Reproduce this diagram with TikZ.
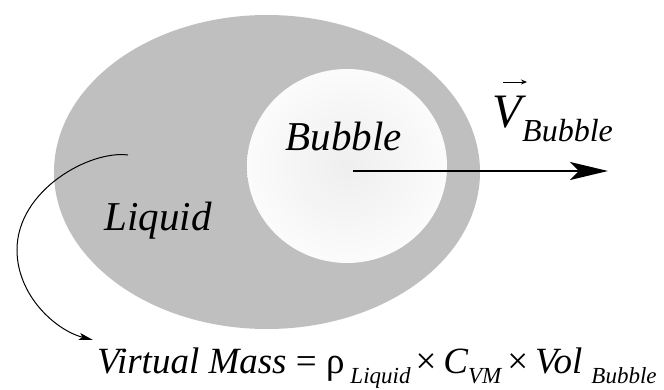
\documentclass[tikz,border=0pt]{standalone}
\usepackage{fontspec}
\setmainfont{Liberation Serif}
\usetikzlibrary{arrows.meta}

\definecolor{liquidgray}{RGB}{191,191,191}
\newcommand{\lowsub}[1]{\raisebox{-10pt}{\fontsize{23}{25}\selectfont\itshape #1}}

\begin{document}
\begin{tikzpicture}[x=1pt,y=-1pt,
    lbl/.style={font=\fontsize{41}{44}\selectfont\itshape, inner sep=0pt}]
    \useasboundingbox (0,0) rectangle (664,390);
    \fill[white] (0,0) rectangle (664,390);

    % liquid and bubble
    \fill[liquidgray] (267,172) ellipse [x radius=213, y radius=157];
    \shade[inner color=gray!13, outer color=gray!3] (347,166) ellipse [x radius=100, y radius=97];

    \coordinate (bubblemid) at (353,171);
    \coordinate (vtip) at (608,171);
    \coordinate (liqstart) at (128,155);
    \coordinate (liqleft) at (17,250);
    \coordinate (vmend) at (93,340);

    \node[lbl, anchor=base] (bubblelbl) at (344,151) {Bubble};
    \node[lbl, anchor=base] (liquidlbl) at (158,230) {Liquid};

    % velocity
    \draw[line width=2.4pt, -{Stealth[length=38pt, width=18pt, inset=9pt]}] (bubblemid) -- (vtip);
    \node[font=\fontsize{48}{50}\selectfont\itshape, inner sep=0pt, anchor=base west] (vel) at (492,128) {V};
    \node[font=\fontsize{32}{34}\selectfont\itshape, inner sep=0pt, anchor=base west] (velsub) at (522,142) {Bubble};
    \coordinate (vecl) at (503,82);
    \coordinate (vecr) at (527,82);
    \draw[line width=0.9pt, -{Stealth[length=6pt, width=5pt]}] (vecl) -- (vecr);

    % virtual mass
    \draw[line width=1pt, -{Stealth[length=14pt, width=7pt, inset=3pt]}] (liqstart) .. controls (90,150) and (17,190) .. (liqleft)
        .. controls (17,295) and (55,330) .. (vmend);
    \node[font=\fontsize{37}{40}\selectfont, inner sep=0pt, anchor=base west] (vmass) at (97,373)
        {\itshape Virtual Mass\upshape\ = ρ\hspace{6pt}\lowsub{Liquid}\hspace{5pt}×\hspace{7pt}\itshape C\lowsub{VM}\hspace{6pt}\upshape×\hspace{7pt}\itshape Vol\hspace{9pt}\lowsub{Bubble}};
\end{tikzpicture}
\end{document}
